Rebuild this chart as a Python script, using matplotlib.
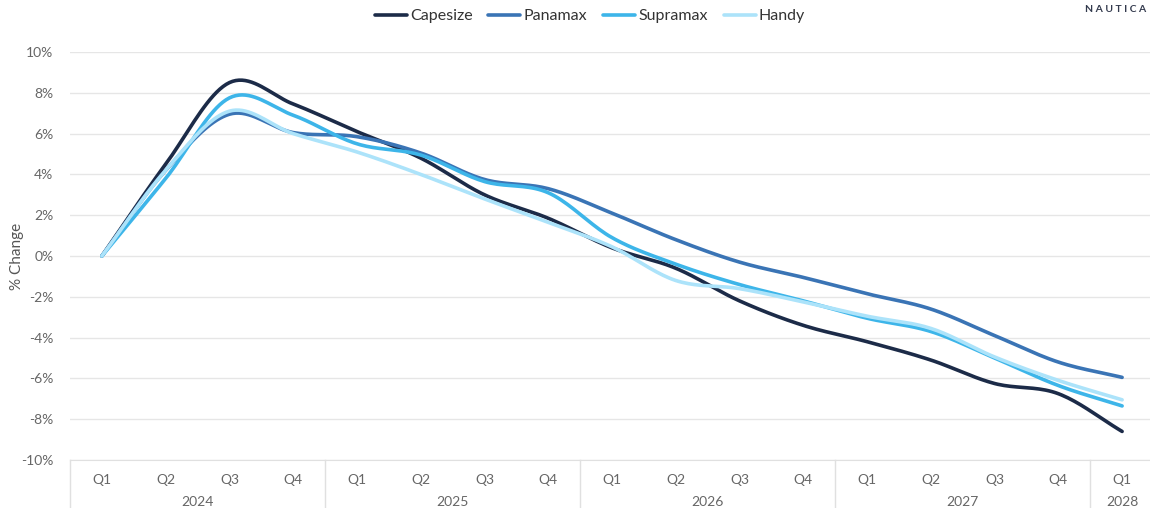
import numpy as np
import matplotlib.pyplot as plt

# quarterly % change vs 2024 Q1
quarters = ["Q1", "Q2", "Q3", "Q4"] * 4 + ["Q1"]
years = ["2024", "2025", "2026", "2027", "2028"]
year_len = [4, 4, 4, 4, 1]

capesize = [0, 4.5, 8.5, 7.45, 6.1, 4.8, 3.0, 1.85, 0.4, -0.6, -2.2, -3.4, -4.2, -5.1, -6.25, -6.75, -8.6]
panamax = [0, 4.2, 6.95, 6.05, 5.85, 5.05, 3.75, 3.3, 2.1, 0.8, -0.3, -1.05, -1.85, -2.6, -3.9, -5.2, -5.95]
supramax = [0, 3.8, 7.75, 6.9, 5.5, 4.95, 3.65, 3.1, 0.9, -0.4, -1.4, -2.2, -3.05, -3.7, -5.0, -6.35, -7.35]
handy = [0, 4.2, 7.1, 6.0, 5.1, 4.0, 2.8, 1.65, 0.45, -1.2, -1.6, -2.25, -2.95, -3.55, -4.95, -6.1, -7.05]

series = [("Capesize", capesize, "#1c2b48"),
          ("Panamax", panamax, "#3a74b5"),
          ("Supramax", supramax, "#3db5e9"),
          ("Handy", handy, "#ace3fa")]


def smooth(y, n=20):
    # catmull-rom through the points
    y = np.asarray(y, float)
    p = np.concatenate([[2 * y[0] - y[1]], y, [2 * y[-1] - y[-2]]])
    xs, ys = [], []
    t = np.linspace(0, 1, n, endpoint=False)
    for i in range(len(y) - 1):
        p0, p1, p2, p3 = p[i], p[i + 1], p[i + 2], p[i + 3]
        seg = 0.5 * (2 * p1 + (-p0 + p2) * t + (2 * p0 - 5 * p1 + 4 * p2 - p3) * t ** 2
                     + (-p0 + 3 * p1 - 3 * p2 + p3) * t ** 3)
        xs.append(i + t)
        ys.append(seg)
    xs.append([len(y) - 1])
    ys.append([y[-1]])
    return np.concatenate(xs), np.concatenate(ys)


plt.rcParams['font.family'] = ['Lato', 'DejaVu Sans']

fig = plt.figure(figsize=(11.5, 5.08), dpi=100)
ax = fig.add_axes([70 / 1150, 48 / 508, 1084 / 1150, 408 / 508])

x = np.arange(len(quarters))
for name, vals, col in series:
    sx, sy = smooth(vals)
    ax.plot(sx, sy, color=col, lw=2.6, label=name, solid_capstyle='round')

ax.set_xlim(-0.5, len(quarters) - 0.5)
ax.set_ylim(-10, 10)
ax.set_yticks(np.arange(-10, 11, 2))
ax.set_yticklabels([f"{v}%" for v in range(-10, 11, 2)])
ax.yaxis.grid(True, color="#e6e6e6", lw=1)
ax.set_axisbelow(True)
for s in ["top", "right", "left"]:
    ax.spines[s].set_visible(False)
ax.spines["bottom"].set_color("#e0e0e0")
ax.tick_params(axis="y", length=0, pad=12, labelsize=10, labelcolor="#666666")
ax.tick_params(axis="x", length=0, pad=10, labelsize=10, labelcolor="#666666")
ax.set_xticks(x)
ax.set_xticklabels(quarters)
ax.set_ylabel("% Change", fontsize=11, color="#555555", va="center")
ax.yaxis.set_label_coords((17 - 70) / 1084, 0.5)

# year groups under the quarter labels
start = 0
trans = ax.get_xaxis_transform()
for yr, n in zip(years, year_len):
    ax.plot([start - 0.5, start - 0.5], [0, -48 / 408], transform=trans,
            color="#e0e0e0", lw=1, clip_on=False)
    ax.text(start + (n - 1) / 2, -42 / 408, yr, transform=trans, ha="center",
            va="center", fontsize=10, color="#666666")
    start += n

leg = fig.legend(loc="upper center", bbox_to_anchor=(0.513, 1.01), ncol=4, frameon=False,
                 fontsize=11.5, handlelength=2.0, handletextpad=0.2, columnspacing=1.0)
for t in leg.get_texts():
    t.set_color("#333333")

fig.text(1146 / 1150, 1 - 9 / 508, "N A U T I C A", fontsize=7.5, color="#333a4d",
         fontweight="bold", va="center", ha="right")

fig.savefig("out.png", dpi=100)
